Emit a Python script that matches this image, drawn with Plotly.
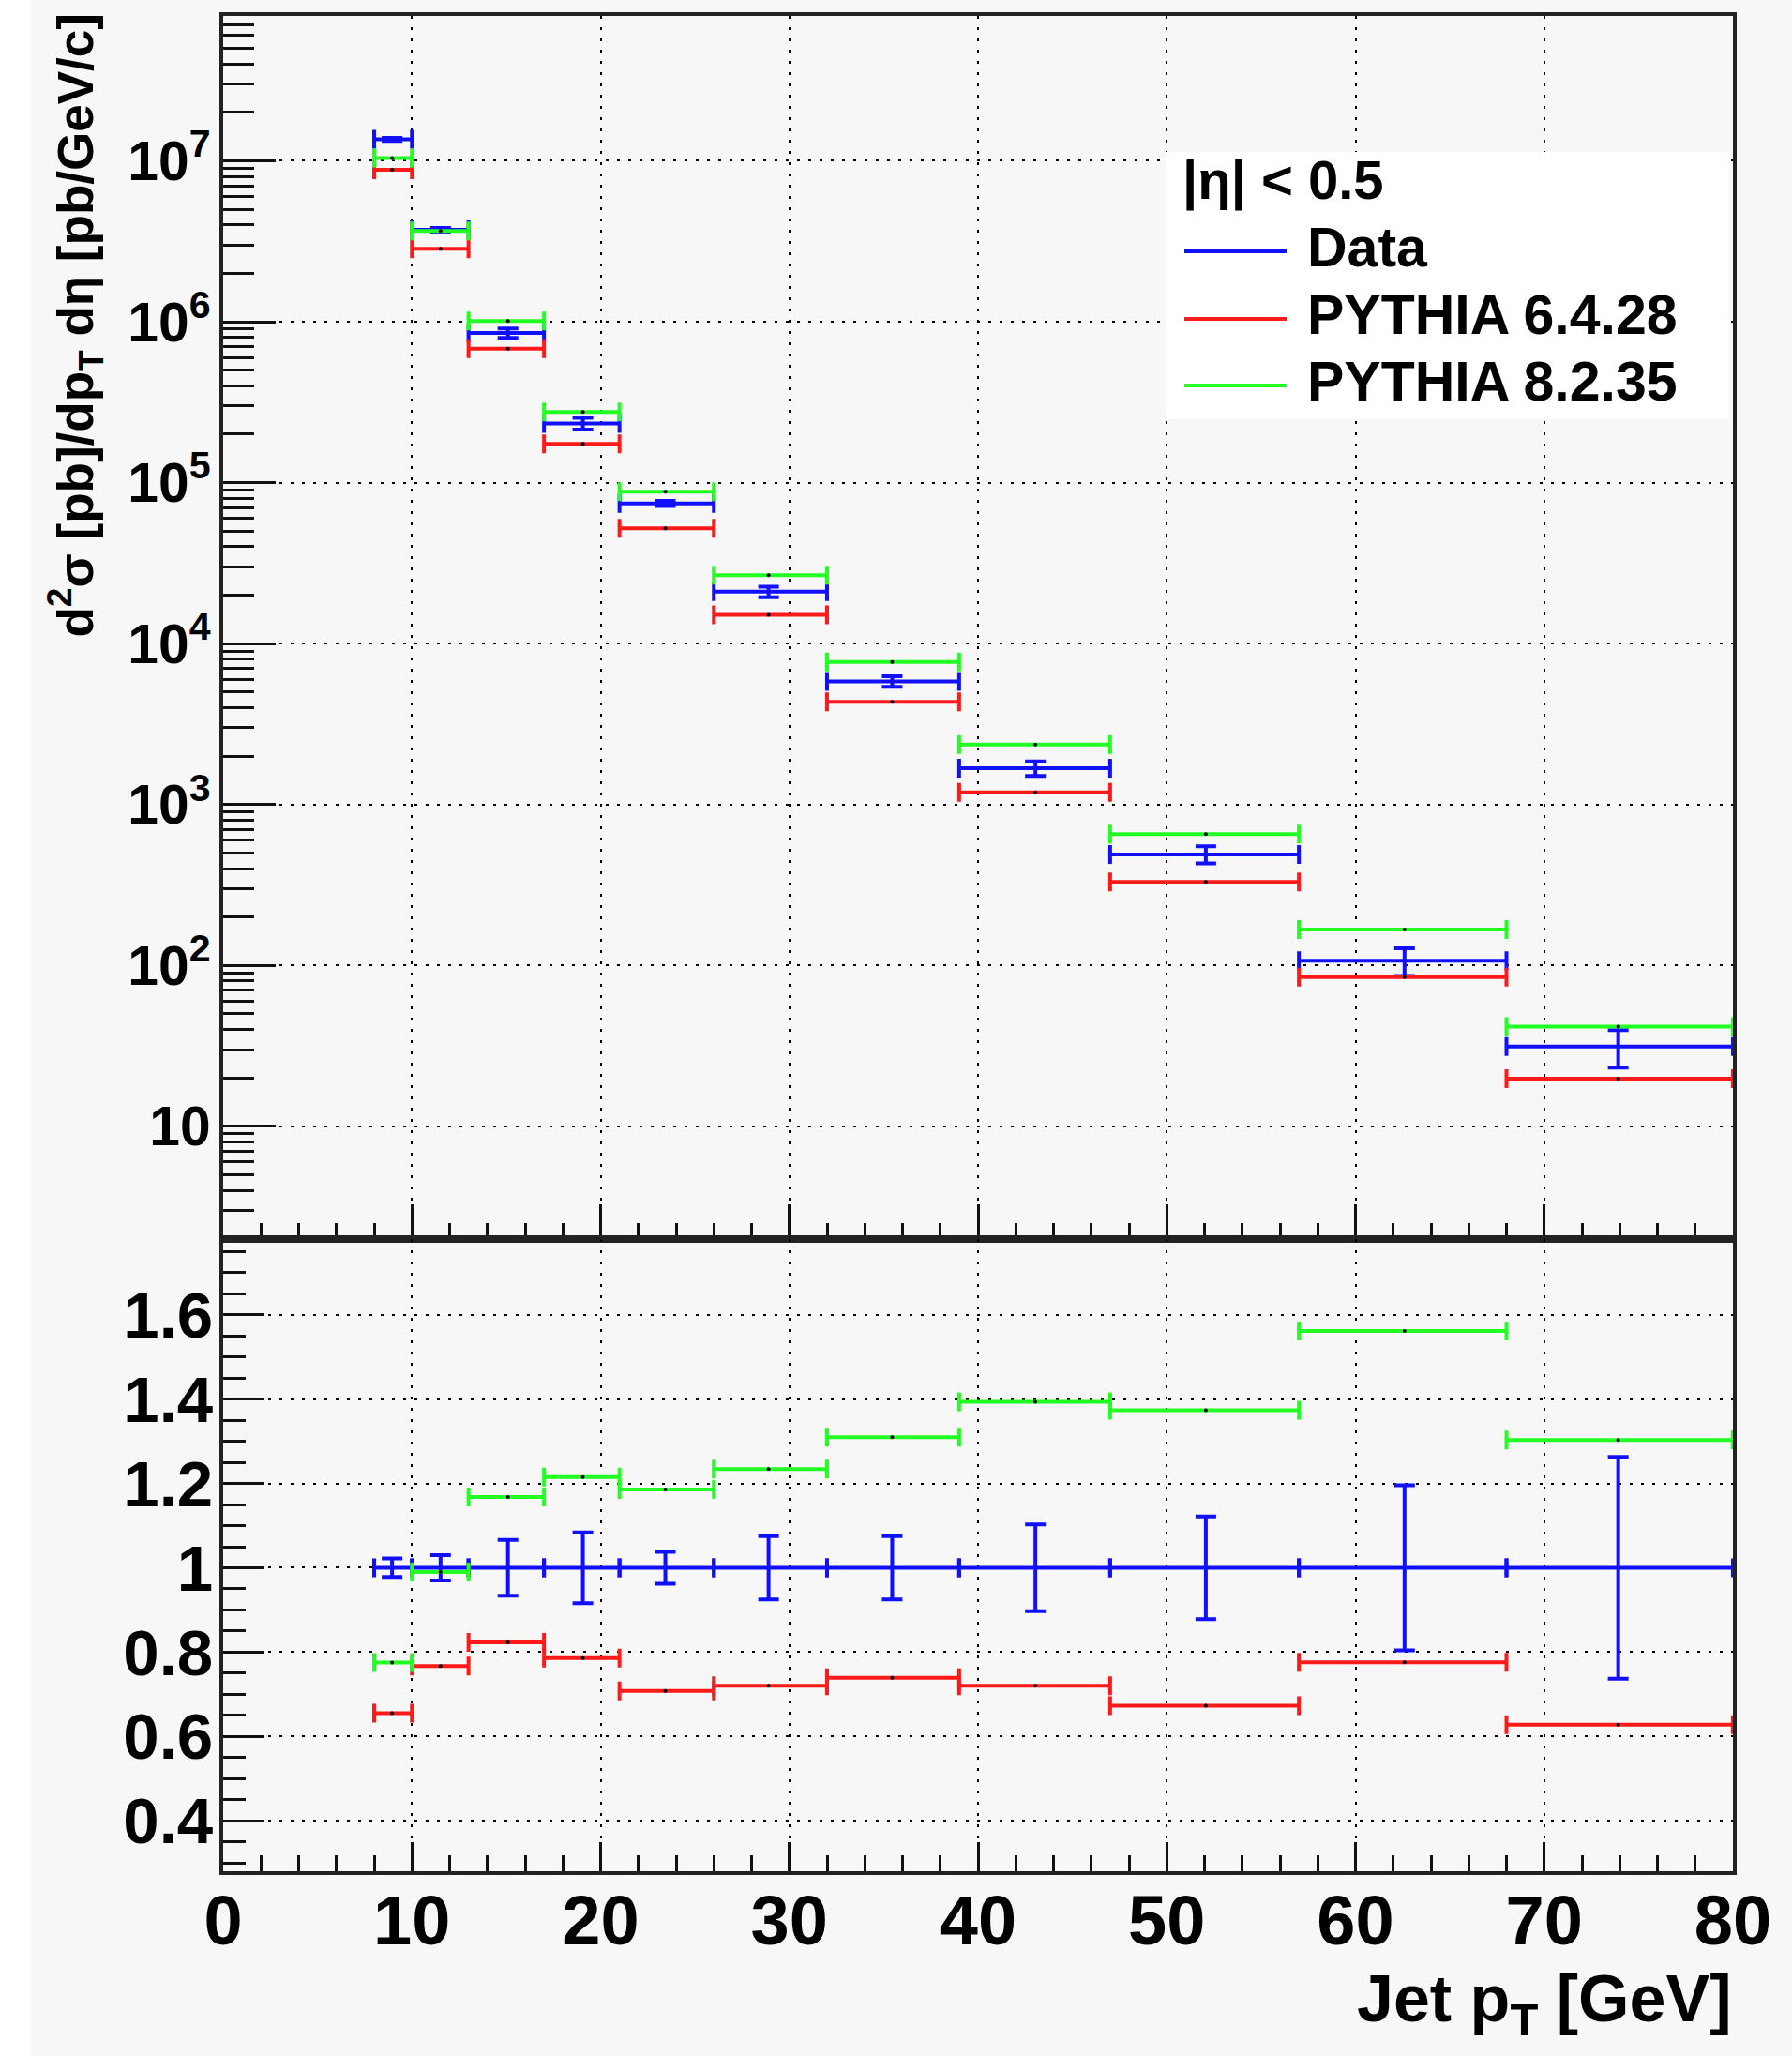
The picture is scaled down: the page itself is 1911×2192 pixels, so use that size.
import plotly.graph_objects as go

# ---------------- data ----------------
bin_lo = [8, 10, 13, 17, 21, 26, 32, 39, 47, 57, 68]
bin_hi = [10, 13, 17, 21, 26, 32, 39, 47, 57, 68, 80]
pt_x = [8.95, 11.52, 15.09, 19.06, 23.43, 28.9, 35.45, 43.04, 52.07, 62.6, 73.92]

data_xsec = [1.36e7, 3.72e6, 8.5e5, 2.33e5, 7.43e4, 2.10e4, 5.82e3, 1.68e3, 490, 107, 31.4]
data_rel_err = [0.022, 0.03, 0.066, 0.084, 0.038, 0.075, 0.075, 0.103, 0.122, 0.196, 0.263]
py6_xsec = [8.8e6, 2.84e6, 6.8e5, 1.74e5, 5.2e4, 1.51e4, 4.35e3, 1.19e3, 330, 84.5, 19.8]
py8_xsec = [1.04e7, 3.66e6, 1.01e6, 2.75e5, 8.77e4, 2.66e4, 7.7e3, 2.36e3, 655, 167, 41.7]

data_ratio = [1.0, 1.0, 1.0, 1.0, 1.0, 1.0, 1.0, 1.0, 1.0, 1.0, 1.0]
py6_ratio = [0.655, 0.767, 0.823, 0.786, 0.708, 0.72, 0.739, 0.72, 0.673, 0.776, 0.628]
py8_ratio = [0.775, 0.99, 1.168, 1.215, 1.186, 1.234, 1.31, 1.394, 1.374, 1.562, 1.303]

series_names = ["Data", "PYTHIA 6.4.28", "PYTHIA 8.2.35"]
header_text = "|η| < 0.5"

BLUE, RED, GREEN = "#1010ff", "#ff1a1a", "#22ff22"
FONT = "Liberation Sans"

x_plus = [h - x for h, x in zip(bin_hi, pt_x)]
x_minus = [x - l for l, x in zip(bin_lo, pt_x)]
data_abs_err = [v * r for v, r in zip(data_xsec, data_rel_err)]

fig = go.Figure()


def add_mc(y, color, xa, ya):
    fig.add_trace(go.Scatter(
        x=pt_x, y=y, mode="markers", xaxis=xa, yaxis=ya, showlegend=False,
        marker=dict(color="black", size=4),
        error_x=dict(type="data", array=x_plus, arrayminus=x_minus, symmetric=False,
                     color=color, thickness=4, width=10),
    ))


def add_data(y, err, xa, ya):
    fig.add_trace(go.Scatter(
        x=pt_x, y=y, mode="markers", xaxis=xa, yaxis=ya, showlegend=False,
        marker=dict(color=BLUE, size=3),
        error_x=dict(type="data", array=x_plus, arrayminus=x_minus, symmetric=False,
                     color=BLUE, thickness=4, width=10),
        error_y=dict(type="data", array=err, color=BLUE, thickness=4, width=11),
    ))


# main panel
add_data(data_xsec, data_abs_err, "x", "y")
add_mc(py6_xsec, RED, "x", "y")
add_mc(py8_xsec, GREEN, "x", "y")
# ratio panel
add_data(data_ratio, data_rel_err, "x2", "y2")
add_mc(py6_ratio, RED, "x2", "y2")
add_mc(py8_ratio, GREEN, "x2", "y2")

W, H = 1911, 2192
L, R, T, B = 238, 63, 17, 197
pw, ph = W - L - R, H - T - B
split = 674 / ph

grid = dict(showgrid=True, gridcolor="black", gridwidth=2, griddash="3px,9px")
line = dict(showline=True, linewidth=4, linecolor="#222222", mirror=True, zeroline=False)

xcommon = dict(range=[0, 80], tick0=0, dtick=10, ticks="inside", tickwidth=3,
               tickcolor="#111111", **grid, **line)

fig.update_layout(
    width=W, height=H,
    margin=dict(l=L, r=R, t=T, b=B, pad=0),
    paper_bgcolor="#f7f7f7", plot_bgcolor="#f7f7f7",
    showlegend=False,
    xaxis=dict(domain=[0, 1], anchor="y", showticklabels=False, ticklen=37,
               minor=dict(dtick=2, ticks="inside", ticklen=17, tickwidth=2.5, tickcolor="#111111"),
               **xcommon),
    xaxis2=dict(domain=[0, 1], anchor="y2", showticklabels=True, ticklen=31,
                ticklabelstandoff=-15,
                tickfont=dict(family=FONT, size=74, color="black", weight="bold"),
                minor=dict(dtick=2, ticks="inside", ticklen=17, tickwidth=2.5, tickcolor="#111111"),
                **xcommon),
    yaxis=dict(domain=[split, 1], anchor="x", type="log", range=[0.30, 7.90],
               dtick=1, exponentformat="power", ticks="inside", ticklen=56, tickwidth=3,
               tickcolor="#111111",
               tickfont=dict(family=FONT, size=47, color="black", weight="bold"),
               minor=dict(dtick="D1", ticks="inside", ticklen=33, tickwidth=2.5, tickcolor="#111111"),
               **grid, **line),
    yaxis2=dict(domain=[0, split], anchor="x2", range=[0.28, 1.78], tick0=0, dtick=0.2,
                ticks="inside", ticklen=44, tickwidth=3, tickcolor="#111111",
                ticklabelstandoff=-7,
                tickfont=dict(family=FONT, size=69, color="black", weight="bold"),
                minor=dict(dtick=0.05, ticks="inside", ticklen=24, tickwidth=2.5, tickcolor="#111111"),
                **grid, **line),
)


def px_x(v):
    return (v - L) / pw


def px_y(v):
    return (H - B - v) / ph


shapes = []
# lighter strip at the far left of the canvas
shapes.append(dict(type="rect", xref="paper", yref="paper", x0=px_x(0), x1=px_x(33),
                   y0=px_y(H), y1=px_y(0), fillcolor="#ffffff", line=dict(width=0), layer="below"))
# legend box
shapes.append(dict(type="rect", xref="paper", yref="paper", x0=px_x(1243), x1=px_x(1844),
                   y0=px_y(447), y1=px_y(162), fillcolor="#ffffff", line=dict(width=0), layer="above"))
legend_rows = [268, 340, 411]
legend_colors = [BLUE, RED, GREEN]
for yy, col in zip(legend_rows, legend_colors):
    shapes.append(dict(type="line", xref="paper", yref="paper", x0=px_x(1263), x1=px_x(1372),
                       y0=px_y(yy), y1=px_y(yy), line=dict(color=col, width=4), layer="above"))
fig.update_layout(shapes=shapes)

ann = []
for yy, name in zip(legend_rows, series_names):
    ann.append(dict(xref="paper", yref="paper", x=px_x(1392), y=px_y(yy - 4), xanchor="left",
                    yanchor="middle", showarrow=False, text=name,
                    font=dict(family=FONT, size=59, color="black", weight="bold")))
ann.append(dict(xref="paper", yref="paper", x=px_x(1259), y=px_y(192), xanchor="left",
                yanchor="middle", showarrow=False, text=header_text,
                font=dict(family=FONT, size=58, color="black", weight="bold")))
# axis titles
ann.append(dict(xref="paper", yref="paper", x=1.0, y=0, xanchor="right", yanchor="top",
                yshift=-95, showarrow=False, text="Jet p<sub>T</sub> [GeV]",
                font=dict(family=FONT, size=70, color="black", weight="bold")))
ann.append(dict(xref="paper", yref="paper", x=px_x(80), y=1.0, xanchor="center", yanchor="top",
                yshift=4, showarrow=False, textangle=-90,
                text="d<sup>2</sup>σ [pb]/dp<sub>T</sub> dη [pb/GeV/c]",
                font=dict(family=FONT, size=53, color="black", weight="bold")))
fig.update_layout(annotations=ann)

fig.write_html("out.html")
